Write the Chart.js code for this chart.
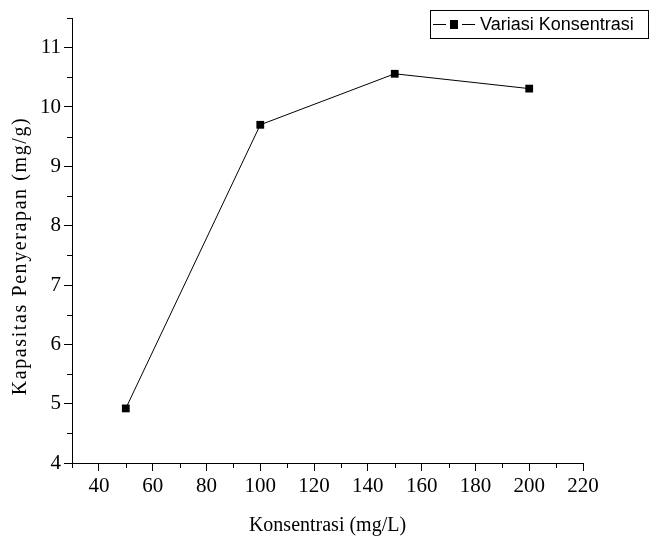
<!DOCTYPE html>
<html>
<head>
<meta charset="utf-8">
<script src="https://cdn.jsdelivr.net/npm/chart.js@4/dist/chart.umd.min.js"></script>
<style>
    html, body { margin: 0; padding: 0; background: #fff; }
    #wrap { width: 652px; height: 540px; }
</style>
</head>
<body>
<div id="wrap"><canvas id="chart"></canvas></div>
<script>
// data
const concentrations = [50, 100, 150, 200];
const capacity = [4.92, 9.70, 10.56, 10.31];
const seriesLabel = "Variasi Konsentrasi";
const xTicks = [40, 60, 80, 100, 120, 140, 160, 180, 200, 220];
const yTicks = [4, 5, 6, 7, 8, 9, 10, 11];
const xTitle = "Konsentrasi (mg/L)";
const yTitle = "Kapasitas Penyerapan (mg/g)";

const SERIF = "'Liberation Serif', 'Times New Roman', serif";
const SANS = "'Liberation Sans', Arial, sans-serif";

// minor ticks, y title and the boxed legend
const extras = {
    id: "extras",
    afterDraw(chart) {
        const ctx = chart.ctx;
        const xs = chart.scales.x;
        const ys = chart.scales.y;
        const area = chart.chartArea;
        ctx.save();
        ctx.strokeStyle = "#000";
        ctx.lineWidth = 1;
        ctx.beginPath();
        for (let v = xs.min; v < xs.max; v += 20) {
            const px = Math.round(xs.getPixelForValue(v)) + 0.5;
            ctx.moveTo(px, area.bottom);
            ctx.lineTo(px, area.bottom + 5);
        }
        for (let v = ys.min + 0.5; v <= ys.max; v += 1) {
            const py = Math.round(ys.getPixelForValue(v)) + 0.5;
            ctx.moveTo(area.left - 5, py);
            ctx.lineTo(area.left, py);
        }
        ctx.stroke();

        // y axis title, letter spaced like the original
        ctx.save();
        ctx.translate(21, 256);
        ctx.rotate(-Math.PI / 2);
        ctx.font = "20px " + SERIF;
        ctx.letterSpacing = "1.6px";
        ctx.fillStyle = "#000";
        ctx.textAlign = "center";
        ctx.textBaseline = "middle";
        ctx.fillText(yTitle, 0, 0);
        ctx.restore();

        // legend box: dash, square, dash, label
        ctx.strokeRect(430.5, 10.5, 218, 28);
        ctx.beginPath();
        ctx.moveTo(433, 24.5);
        ctx.lineTo(446, 24.5);
        ctx.moveTo(462, 24.5);
        ctx.lineTo(475, 24.5);
        ctx.stroke();
        ctx.fillStyle = "#000";
        ctx.fillRect(450, 20, 8, 9);
        ctx.font = "18px " + SANS;
        ctx.textAlign = "left";
        ctx.textBaseline = "middle";
        ctx.fillText(chart.data.datasets[0].label, 480, 25);
        ctx.restore();
    }
};

const points = concentrations.map((x, i) => ({ x: x, y: capacity[i] }));

new Chart(document.getElementById("chart"), {
    type: "line",
    data: {
        datasets: [{
            label: seriesLabel,
            data: points,
            borderColor: "#000",
            borderWidth: 1,
            backgroundColor: "#000",
            pointStyle: "rect",
            pointRadius: 5.5,
            pointBorderWidth: 0,
            tension: 0
        }]
    },
    options: {
        responsive: true,
        maintainAspectRatio: false,
        animation: false,
        layout: { padding: { top: 18, right: 69, left: 0, bottom: 0 } },
        plugins: {
            legend: { display: false },
            tooltip: { enabled: false }
        },
        scales: {
            x: {
                type: "linear",
                min: 30,
                max: 220,
                afterBuildTicks: (s) => { s.ticks = xTicks.map(v => ({ value: v })); },
                afterFit: (s) => { s.height = 77; },
                grid: { drawOnChartArea: false, tickLength: 8, color: "#000", tickWidth: 1 },
                border: { display: true, color: "#000", width: 1 },
                ticks: { color: "#000", padding: 3, maxRotation: 0, font: { family: SERIF, size: 21 } },
                title: {
                    display: true,
                    text: xTitle,
                    color: "#000",
                    padding: { top: 0, bottom: 2 },
                    font: { family: SERIF, size: 20 }
                }
            },
            y: {
                min: 4,
                max: 11.5,
                afterBuildTicks: (s) => { s.ticks = yTicks.map(v => ({ value: v })); },
                afterFit: (s) => { s.width = 72; },
                grid: { drawOnChartArea: false, tickLength: 8, color: "#000", tickWidth: 1 },
                border: { display: true, color: "#000", width: 1 },
                ticks: { color: "#000", padding: 3, font: { family: SERIF, size: 21 } }
            }
        }
    },
    plugins: [extras]
});
</script>
</body>
</html>
